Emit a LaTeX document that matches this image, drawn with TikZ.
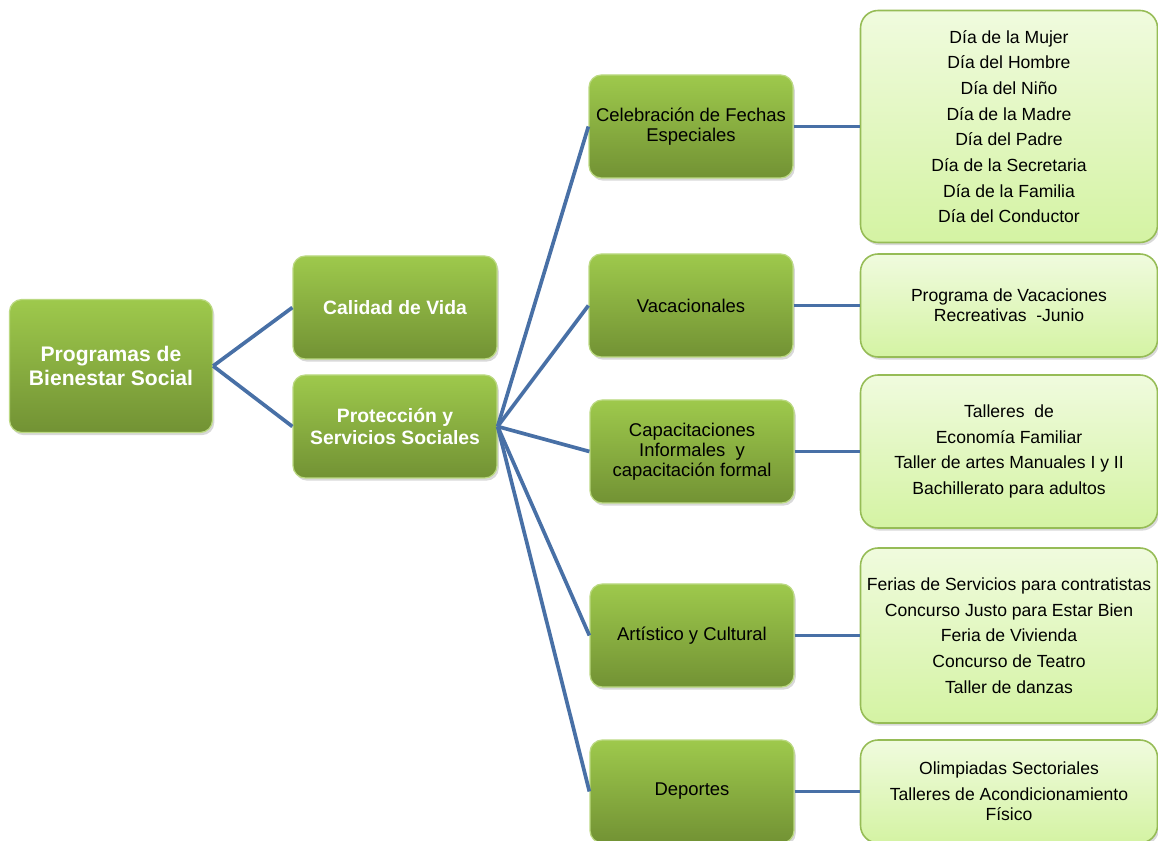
\documentclass[tikz,border=0pt]{standalone}
\usepackage{fontspec}
\setmainfont{Liberation Sans}
\usetikzlibrary{shadows}

\definecolor{verdeA}{RGB}{158,201,76}
\definecolor{verdeB}{RGB}{114,146,52}
\definecolor{claroA}{RGB}{240,251,222}
\definecolor{claroB}{RGB}{212,243,163}
\definecolor{borde}{RGB}{150,188,86}
\definecolor{linea}{RGB}{72,112,166}

\tikzset{
  caja/.style={rectangle, rounded corners=7pt, minimum width=4.08cm, minimum height=2.06cm,
    top color=verdeA, bottom color=verdeB, draw=verdeA!70!white, line width=0.7pt,
    align=center, font=\fontsize{10.5}{11.4}\selectfont,
    drop shadow={shadow xshift=1pt, shadow yshift=-1.5pt, opacity=0.3}},
  jefe/.style={caja, text=white, font=\bfseries\fontsize{11}{12.6}\selectfont},
  hoja/.style={caja, top color=claroA, bottom color=claroB, draw=borde, line width=0.9pt,
    minimum width=5.94cm, rounded corners=10pt, font=\fontsize{10}{11.6}\selectfont},
  rama/.style={draw=linea, line width=2.1pt},
}

\begin{document}
\begin{tikzpicture}
  \useasboundingbox (0,0) rectangle (23.16,16.8);

  \node[jefe, minimum width=4.06cm, minimum height=2.66cm, font=\bfseries\fontsize{12}{13.2}\selectfont]
    (raiz) at (2.22, 9.48) {Programas de\\Bienestar Social};

  \node[jefe] (cali) at (7.9, 10.65) {Calidad de Vida};
  \node[jefe] (prot) at (7.9, 8.27) {Protección y\\Servicios Sociales};

  \node[caja] (cele) at (13.82, 14.27) {Celebración de Fechas\\Especiales};
  \node[caja] (vaca) at (13.82, 10.69) {Vacacionales};
  \node[caja] (capa) at (13.84, 7.77) {Capacitaciones\\Informales\ \ y\\capacitación formal};
  \node[caja] (arti) at (13.84, 4.09) {Artístico y Cultural};
  \node[caja] (depo) at (13.84, 0.97) {Deportes};

  \node[hoja, minimum height=4.64cm] (h1) at (20.18, 14.27)
    {Día de la Mujer\\[3pt] Día del Hombre\\[3pt] Día del Niño\\[3pt] Día de la Madre\\[3pt]
     Día del Padre\\[3pt] Día de la Secretaria\\[3pt] Día de la Familia\\[3pt] Día del Conductor};
  \node[hoja] (h2) at (20.18, 10.69) {Programa de Vacaciones\\Recreativas\ \ -Junio};
  \node[hoja, minimum height=3.06cm] (h3) at (20.18, 7.77)
    {Talleres\ \ de\\[3pt] Economía Familiar\\[3pt] Taller de artes Manuales I y II\\[3pt] Bachillerato para adultos};
  \node[hoja, minimum height=3.5cm] (h4) at (20.18, 4.09)
    {Ferias de Servicios para contratistas\\[3pt] Concurso Justo para Estar Bien\\[3pt] Feria de Vivienda\\[3pt]
     Concurso de Teatro\\[3pt] Taller de danzas};
  \node[hoja] (h5) at (20.18, 0.97) {Olimpiadas Sectoriales\\[3pt] Talleres de Acondicionamiento\\Físico};

  % 線をひく
  \draw[rama] (raiz.east) -- (cali.west);
  \draw[rama] (raiz.east) -- (prot.west);
  \foreach \c in {cele,vaca,capa,arti,depo} {
    \draw[rama] (prot.east) -- (\c.west);
  }
  \foreach \c/\h in {cele/h1,vaca/h2,capa/h3,arti/h4,depo/h5} {
    \draw[rama] (\c.east) -- (\h.west);
  }
\end{tikzpicture}
\end{document}
